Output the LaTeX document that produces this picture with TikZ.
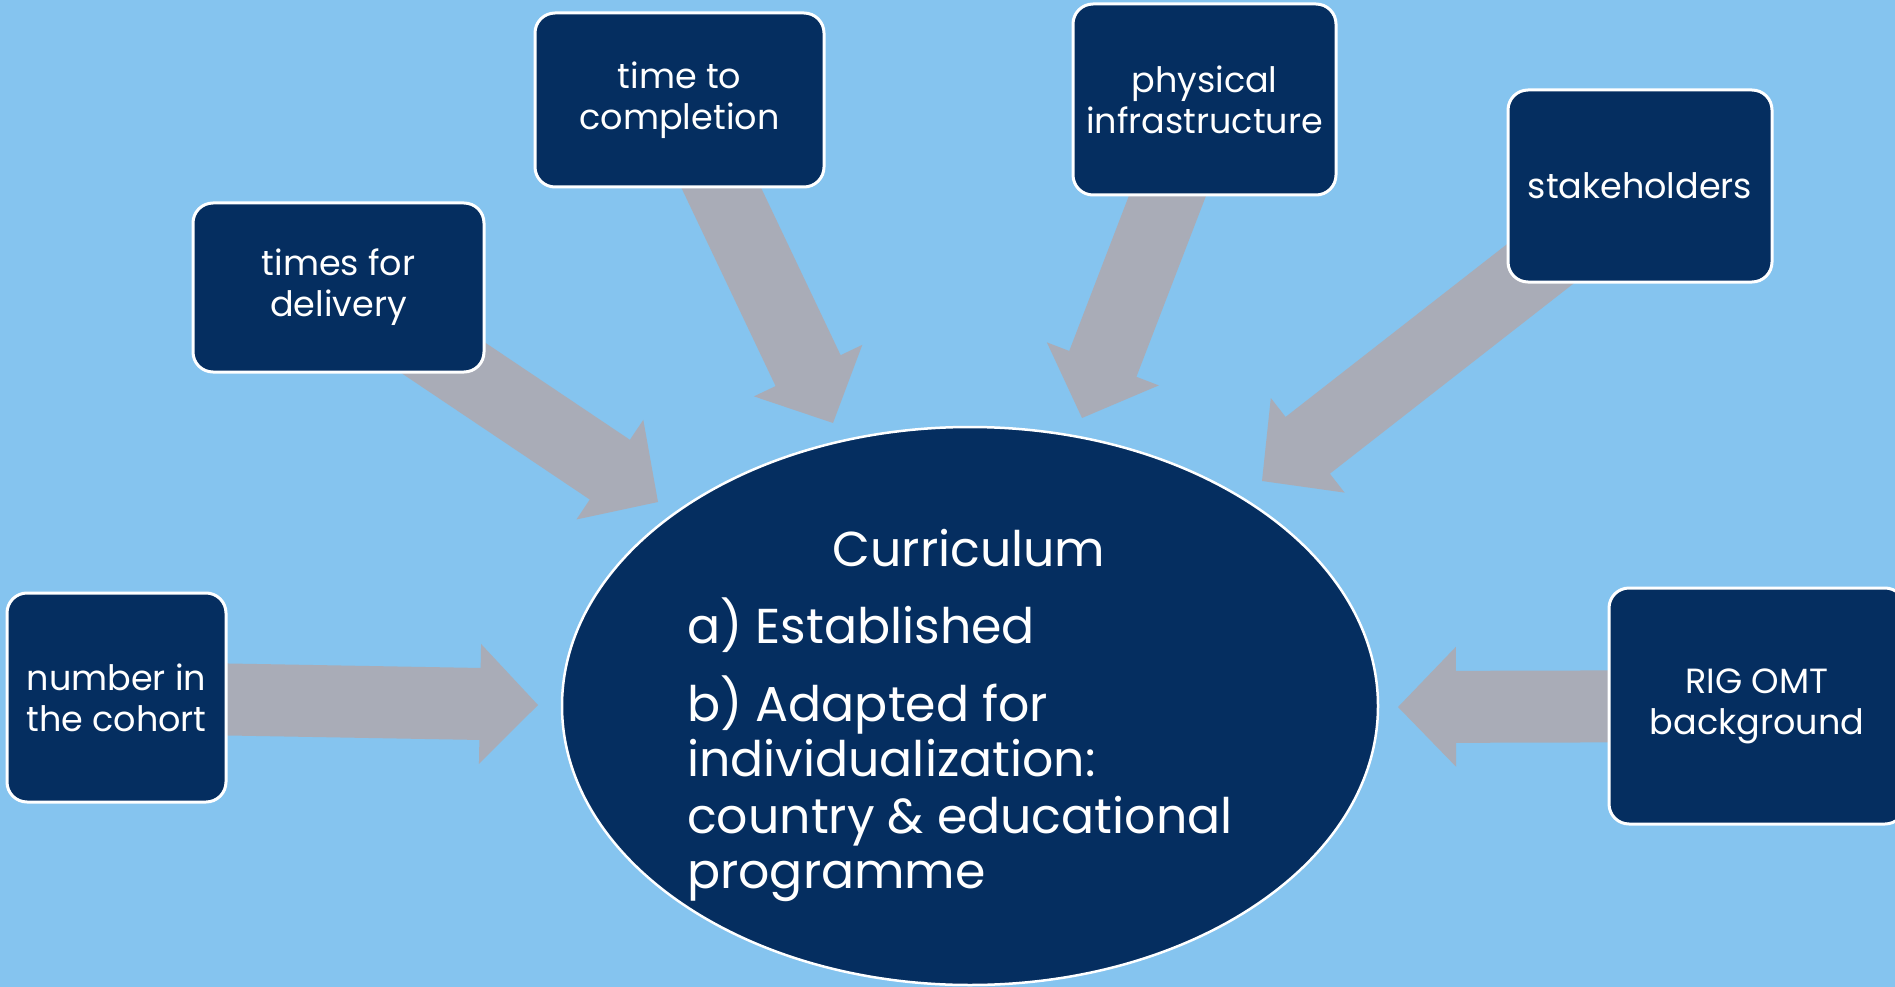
\documentclass[tikz,border=0pt]{standalone}
\usepackage{fontspec}
\setmainfont{Poppins}
\usetikzlibrary{calc,shapes.geometric}
\definecolor{bgblue}{RGB}{133,196,239}
\definecolor{navy}{RGB}{5,46,96}
\definecolor{arrowgray}{RGB}{169,172,183}
\newcommand\fatarrow[2]{%
  \fill[arrowgray] let \p1=(#1), \p2=(#2),
    \n1={atan2(\y2-\y1,\x2-\x1)}, \n2={veclen(\x2-\x1,\y2-\y1)} in
    [shift={(\p2)}, rotate=\n1]
    (0pt,0pt) -- (-58pt,60pt) -- (-58pt,36pt) -- ({-\n2*1pt},36pt)
    -- ({-\n2*1pt},-36pt) -- (-58pt,-36pt) -- (-58pt,-60pt) -- cycle;}
\tikzset{
  box/.style={draw=white, line width=3pt, fill=navy, rounded corners=20pt,
    text=white, align=center, font=\fontsize{35}{41}\selectfont, inner sep=0pt},
  bigtxt/.style={text=white, font=\fontsize{49}{56}\selectfont, inner sep=0pt}
}
\begin{document}
\begin{tikzpicture}[x=1pt,y=-1pt]
\useasboundingbox (0,0) rectangle (1895,987);
\fill[bgblue] (0,0) rectangle (1895,987);
% box centres (for arrows)
\coordinate (ccoh) at (116.5,697.5);
\coordinate (cdel) at (338.5,287.5);
\coordinate (ccom) at (679.5,100);
\coordinate (cphy) at (1204.5,99.5);
\coordinate (csta) at (1640,186);
\coordinate (crig) at (1757,706);
% arrow tips
\coordinate (tcoh) at (538,705);
\coordinate (tdel) at (658,502);
\coordinate (tcom) at (833,423);
\coordinate (tphy) at (1082,418);
\coordinate (tsta) at (1262,481);
\coordinate (trig) at (1398,707);
\fatarrow{ccoh}{tcoh}
\fatarrow{cdel}{tdel}
\fatarrow{ccom}{tcom}
\fatarrow{cphy}{tphy}
\fatarrow{csta}{tsta}
\fatarrow{crig}{trig}
% boxes
\node[box, minimum width=219pt, minimum height=209pt] (coh) at (ccoh) {number in\\the cohort};
\node[box, minimum width=291pt, minimum height=169pt] (del) at (cdel) {times for\\delivery};
\node[box, minimum width=289pt, minimum height=174pt] (com) at (ccom) {time to\\completion};
\node[box, minimum width=263pt, minimum height=191pt] (phy) at (cphy) {physical\\infrastructure};
\node[box, minimum width=264pt, minimum height=192pt] (sta) at (csta) {stakeholders};
\node[box, minimum width=296pt, minimum height=236pt] (rig) at (crig) {RIG OMT\\background};
% central ellipse
\node[ellipse, draw=white, line width=2.5pt, fill=navy, minimum width=816pt,
  minimum height=558pt, inner sep=0pt] (cur) at (970,706) {};
\node[bigtxt, anchor=base] (l0) at (969,566) {Curriculum};
\node[bigtxt, anchor=base west] (l1) at (687,643) {a) Established};
\node[bigtxt, anchor=base west] (l2) at (687,721) {b) Adapted for};
\node[bigtxt, anchor=base west] (l3) at (687,776) {individualization:};
\node[bigtxt, anchor=base west] (l4) at (687,833) {country \& educational};
\node[bigtxt, anchor=base west] (l5) at (687,888) {programme};
\end{tikzpicture}
\end{document}
